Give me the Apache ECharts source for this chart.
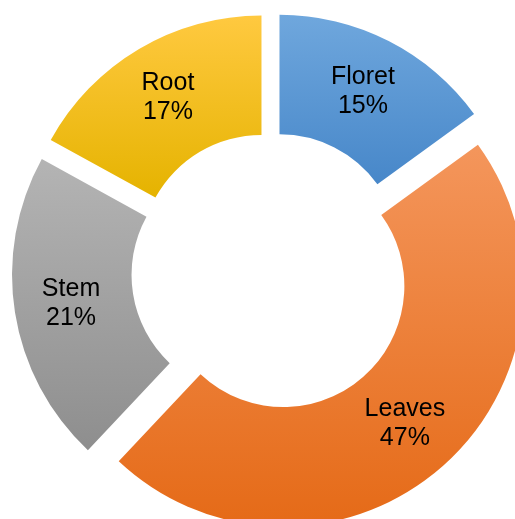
<!DOCTYPE html>
<html>
<head>
<meta charset="utf-8">
<script src="https://cdn.jsdelivr.net/npm/echarts@6/dist/echarts.min.js"></script>
<style>html,body{margin:0;padding:0;background:#fff;}#c{width:515px;height:519px;}</style>
</head>
<body>
<div id="c"></div>
<script>
var categories = ['Floret', 'Leaves', 'Stem', 'Root'];
var values = [15, 47, 21, 17];
var topColors = ['#6FA7DD', '#F4965C', '#B4B4B4', '#FFC940'];
var bottomColors = ['#4787C9', '#E56A17', '#8E8E8E', '#E5B300'];

var data = categories.map(function (name, i) {
  return {
    name: name,
    value: values[i],
    selected: true,
    itemStyle: {
      color: new echarts.graphic.LinearGradient(0, 0, 0, 1, [
        { offset: 0, color: topColors[i] },
        { offset: 1, color: bottomColors[i] }
      ])
    }
  };
});

var chart = echarts.init(document.getElementById('c'), null, { renderer: 'canvas' });
chart.setOption({
  animation: false,
  backgroundColor: '#ffffff',
  series: [{
    type: 'pie',
    center: [271, 272],
    radius: [121, 240.5],
    startAngle: 90,
    clockwise: true,
    selectedMode: 'multiple',
    selectedOffset: 18.7,
    avoidLabelOverlap: false,
    label: {
      show: true,
      position: 'inside',
      formatter: '{b}\n{c}%',
      color: '#000000',
      fontFamily: 'Liberation Sans, Arial, sans-serif',
      fontSize: 25,
      lineHeight: 29
    },
    labelLine: { show: false },
    emphasis: { disabled: true, scale: false },
    select: { label: { show: true } },
    data: data
  }]
});
</script>
</body>
</html>
